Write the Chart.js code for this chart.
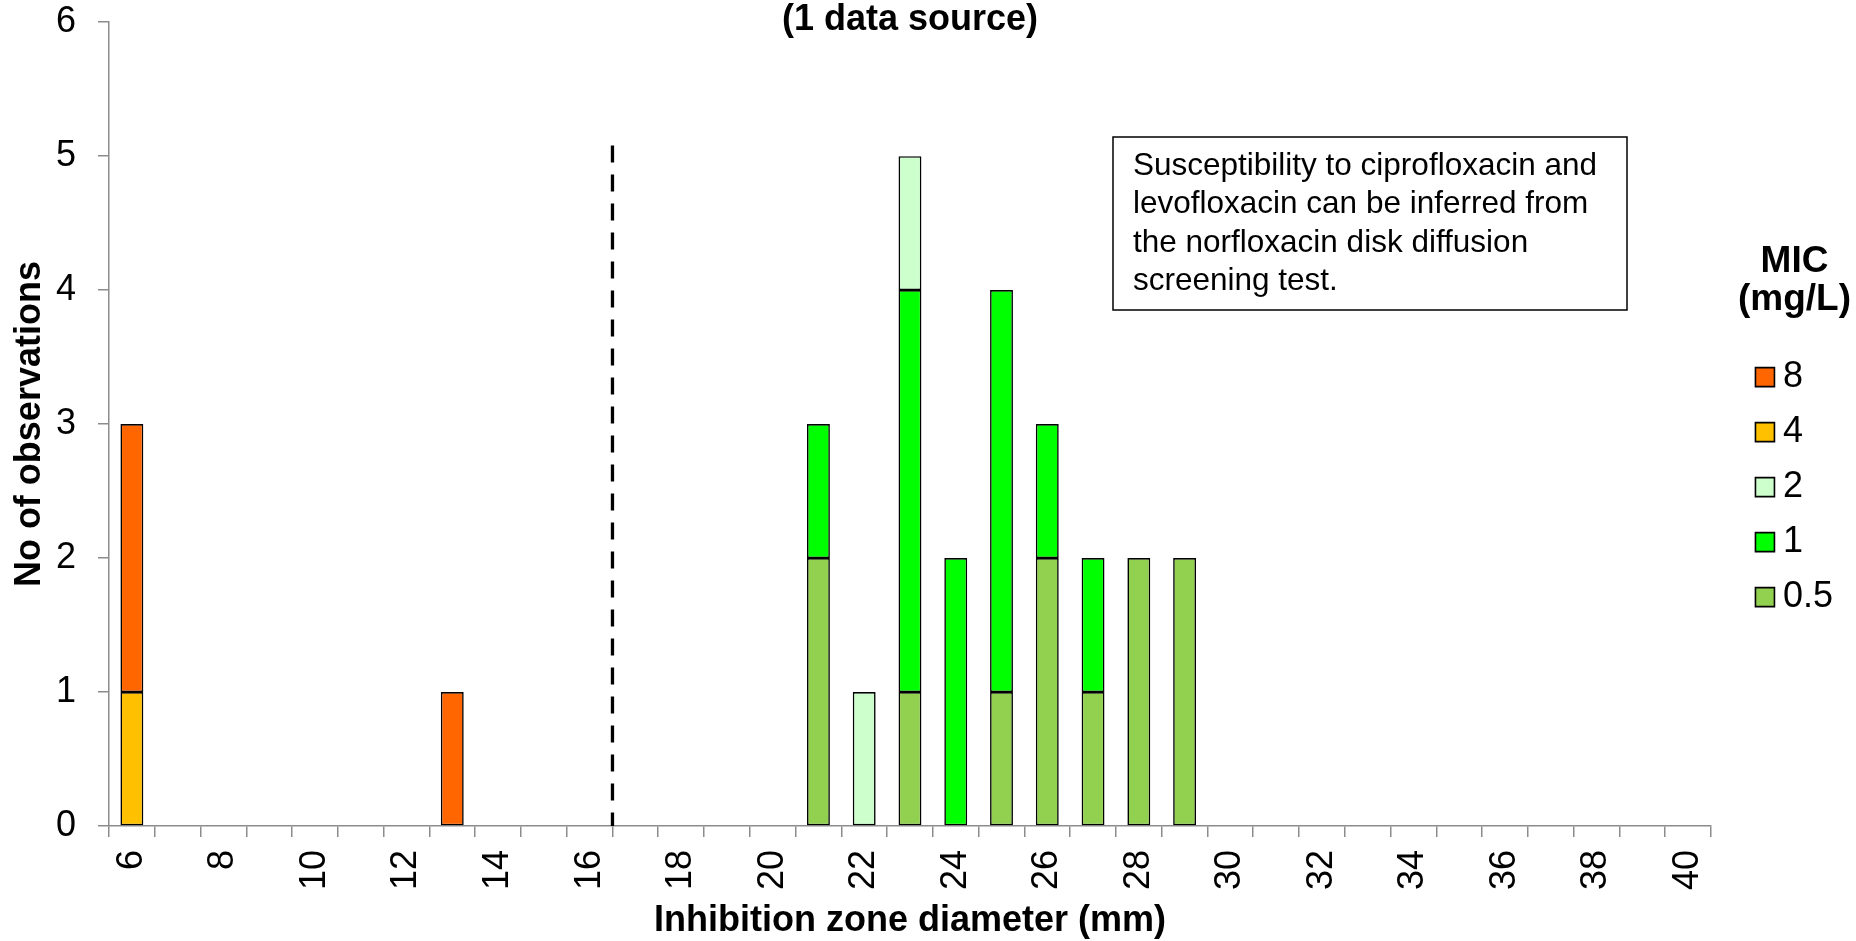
<!DOCTYPE html>
<html>
<head>
<meta charset="utf-8">
<title>Norfloxacin disk diffusion vs MIC</title>
<script src="https://cdn.jsdelivr.net/npm/chart.js@4.4.1/dist/chart.umd.min.js"></script>
<style>
  html, body { margin: 0; padding: 0; background: #fff; }
  #wrap { width: 1856px; height: 941px; position: relative; }
</style>
</head>
<body>
<div id="wrap"><canvas id="chart"></canvas></div>
<script>
// Inhibition zone diameters (mm), one category per mm
const DIAMETERS = [
  "6", "7", "8", "9", "10", "11", "12", "13", "14", "15",
  "16", "17", "18", "19", "20", "21", "22", "23", "24", "25",
  "26", "27", "28", "29", "30", "31", "32", "33", "34", "35",
  "36", "37", "38", "39", "40",
];
const TICK_LABELS = ["6", "8", "10", "12", "14", "16", "18", "20", "22", "24",
  "26", "28", "30", "32", "34", "36", "38", "40"];

// observations per diameter, split by MIC (mg/L)
const MIC_0_5 = [0, 0, 0, 0, 0, 0, 0, 0, 0, 0,  0, 0, 0, 0, 0, 2, 0, 1, 0, 1,  2, 1, 2, 2, 0, 0, 0, 0, 0, 0,  0, 0, 0, 0, 0];
const MIC_1   = [0, 0, 0, 0, 0, 0, 0, 0, 0, 0,  0, 0, 0, 0, 0, 1, 0, 3, 2, 3,  1, 1, 0, 0, 0, 0, 0, 0, 0, 0,  0, 0, 0, 0, 0];
const MIC_2   = [0, 0, 0, 0, 0, 0, 0, 0, 0, 0,  0, 0, 0, 0, 0, 0, 1, 1, 0, 0,  0, 0, 0, 0, 0, 0, 0, 0, 0, 0,  0, 0, 0, 0, 0];
const MIC_4   = [1, 0, 0, 0, 0, 0, 0, 0, 0, 0,  0, 0, 0, 0, 0, 0, 0, 0, 0, 0,  0, 0, 0, 0, 0, 0, 0, 0, 0, 0,  0, 0, 0, 0, 0];
const MIC_8   = [2, 0, 0, 0, 0, 0, 0, 1, 0, 0,  0, 0, 0, 0, 0, 0, 0, 0, 0, 0,  0, 0, 0, 0, 0, 0, 0, 0, 0, 0,  0, 0, 0, 0, 0];

// breakpoint drawn between 16 and 17 mm
const BREAKPOINT_AFTER = "16";
const BREAKPOINT_TOP = 5.08;

const LEGEND_TITLE = ["MIC", "(mg/L)"];
const NOTE_LINES = [
  "Susceptibility to ciprofloxacin and",
  "levofloxacin can be inferred from",
  "the norfloxacin disk diffusion",
  "screening test.",
];

const AXIS_GREY = "#8c8c8c";
const FONT = '"Liberation Sans", Arial, sans-serif';

Chart.defaults.font.family = FONT;
Chart.defaults.color = "#000";

function series(label, values, colour) {
  return {
    label: label,
    data: values.map((v) => v || null),
    backgroundColor: colour,
    borderColor: "#000",
    borderWidth: 1.6,
    borderSkipped: false,
    barPercentage: 0.5,
    categoryPercentage: 1,
  };
}

const breakpointLine = {
  id: "breakpointLine",
  afterDatasetsDraw(chart) {
    const { ctx, scales } = chart;
    const x = scales.x.getPixelForValue(DIAMETERS.indexOf(BREAKPOINT_AFTER) + 0.5);
    const top = scales.y.getPixelForValue(BREAKPOINT_TOP);
    const bottom = scales.y.getPixelForValue(0);
    ctx.save();
    ctx.strokeStyle = "#000";
    ctx.lineWidth = 3.3;
    ctx.setLineDash([17, 12]);
    ctx.beginPath();
    ctx.moveTo(x, top);
    ctx.lineTo(x, bottom);
    ctx.stroke();
    ctx.restore();
  },
};

// text box and the two-line legend heading (the legend clips its own title)
const annotations = {
  id: "annotations",
  afterDraw(chart) {
    const ctx = chart.ctx;
    const lg = chart.legend;
    ctx.save();
    ctx.fillStyle = "#fff";
    ctx.fillRect(1113, 137, 514, 173);
    ctx.strokeStyle = "#000";
    ctx.lineWidth = 1.5;
    ctx.strokeRect(1113, 137, 514, 173);
    ctx.fillStyle = "#000";
    ctx.font = "31.5px " + FONT;
    ctx.textBaseline = "alphabetic";
    NOTE_LINES.forEach((line, i) => ctx.fillText(line, 1133, 175 + i * 38.3));

    ctx.font = "bold 37px " + FONT;
    ctx.textAlign = "center";
    ctx.textBaseline = "middle";
    const cx = lg.left + lg.width / 2;
    LEGEND_TITLE.forEach((line, i) => ctx.fillText(line, cx, lg.top + 262 + i * 38));
    ctx.restore();
  },
};

new Chart(document.getElementById("chart"), {
  type: "bar",
  data: {
    labels: DIAMETERS,
    datasets: [
      series("0.5", MIC_0_5, "#92d050"),
      series("1", MIC_1, "#00ff00"),
      series("2", MIC_2, "#ccffcc"),
      series("4", MIC_4, "#ffc000"),
      series("8", MIC_8, "#ff6600"),
    ],
  },
  options: {
    responsive: true,
    maintainAspectRatio: false,
    animation: false,
    layout: { padding: { right: 13 } },
    plugins: {
      tooltip: { enabled: false },
      title: {
        display: true,
        text: "(1 data source)",
        fullSize: false,
        color: "#000",
        font: { size: 36, weight: "bold", lineHeight: 1 },
        padding: { top: 2, bottom: -16 },
      },
      legend: {
        position: "right",
        align: "start",
        reverse: true,
        // empty title only reserves the space above the items
        title: {
          display: true,
          text: "",
          font: { size: 37, weight: "bold", lineHeight: 1.03 },
          padding: { top: 243.5, bottom: 58.5 },
        },
        labels: {
          usePointStyle: true,
          pointStyle: "rect",
          boxWidth: 0.01,
          boxHeight: 19,
          padding: 19,
          color: "#000",
          font: { size: 36 },
        },
      },
    },
    scales: {
      x: {
        stacked: true,
        offset: true,
        grid: { offset: true, drawOnChartArea: false, tickLength: 11, color: AXIS_GREY, lineWidth: 1.5 },
        border: { color: AXIS_GREY, width: 1.5 },
        ticks: {
          autoSkip: false,
          minRotation: 90,
          maxRotation: 90,
          padding: 13,
          color: "#000",
          font: { size: 36 },
          callback(value) {
            const lab = this.getLabelForValue(value);
            return TICK_LABELS.includes(lab) ? lab : "";
          },
        },
        title: {
          display: true,
          text: "Inhibition zone diameter (mm)",
          color: "#000",
          font: { size: 36, weight: "bold", lineHeight: 1.1 },
          padding: 0,
        },
        afterFit(scale) { scale.height = 115; },
      },
      y: {
        stacked: true,
        min: 0,
        max: 6,
        grid: { drawOnChartArea: false, tickLength: 11, color: AXIS_GREY, lineWidth: 1.5 },
        border: { color: AXIS_GREY, width: 1.5 },
        // tiny line height so the top label does not push the plot down
        ticks: { stepSize: 1, padding: 22, color: "#000", font: { size: 36, lineHeight: 0.01 } },
        title: {
          display: true,
          text: "No of observations",
          color: "#000",
          font: { size: 36, weight: "bold" },
          padding: { top: 8, bottom: 0 },
        },
        afterFit(scale) { scale.width = 109; },
      },
      // empty strip between plot and legend
      gap: {
        type: "linear",
        position: "right",
        grid: { display: false },
        border: { display: false },
        ticks: { display: false },
        afterFit(scale) { scale.width = 35; },
      },
    },
  },
  plugins: [breakpointLine, annotations],
});
</script>
</body>
</html>
